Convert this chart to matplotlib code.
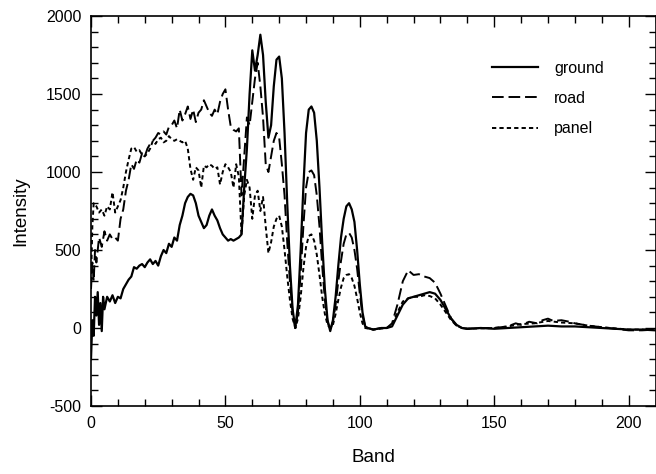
#!/usr/bin/env python3
"""
Spectral intensity per band for three surface types (ground, road, panel).
"""
import matplotlib
matplotlib.use("Agg")
import matplotlib.pyplot as plt
from matplotlib.ticker import MultipleLocator

plt.rcParams['font.family'] = ['Liberation Sans', 'DejaVu Sans']
plt.rcParams['axes.unicode_minus'] = False

# ground (solid)
ground_band = [0, 0.5, 1, 1.5, 2, 2.5, 3, 3.5, 4, 4.5, 5, 6, 7, 8, 9, 10, 11, 12, 13, 14,
               15, 16, 17, 18, 19, 20, 21, 22, 23, 24, 25, 26, 27, 28, 29, 30, 31, 32, 33,
               34, 35, 36, 37, 38, 39, 40, 41, 42, 43, 44, 45, 46, 47, 48, 49, 50, 51, 52,
               53, 54, 55, 56, 57, 58, 59, 60, 61, 62, 63, 64, 65, 66, 67, 68, 69, 70, 71,
               72, 73, 74, 75, 76, 77, 78, 79, 80, 81, 82, 83, 84, 85, 86, 87, 88, 89, 90,
               91, 92, 93, 94, 95, 96, 97, 98, 99, 100, 101, 102, 103, 105, 108, 110, 112,
               114, 116, 118, 120, 122, 124, 126, 128, 130, 132, 134, 136, 138, 140, 145,
               150, 155, 160, 165, 170, 175, 180, 185, 190, 195, 200, 205, 210]
ground_val = [-200, 50, -50, 200, 80, 230, 20, 160, -20, 200, 120, 200, 170, 210, 160, 200,
              190, 250, 280, 310, 330, 390, 380, 400, 410, 390, 420, 440, 410, 430, 400, 460,
              500, 480, 540, 520, 580, 560, 660, 720, 800, 840, 860, 850, 800, 720, 680, 640,
              660, 720, 760, 720, 690, 640, 600, 580, 560, 570, 560, 570, 580, 600, 900, 1150,
              1500, 1780, 1650, 1750, 1880, 1750, 1450, 1220, 1300, 1550, 1720, 1740, 1600,
              1250, 800, 400, 120, 0, 150, 500, 900, 1250, 1400, 1420, 1380, 1200, 900, 550,
              250, 50, -20, 50, 200, 400, 580, 700, 780, 800, 760, 680, 500, 280, 100, 10, 0,
              -10, 0, 0, 10, 80, 150, 190, 200, 210, 220, 230, 220, 180, 120, 60, 20, 0, -5,
              0, -5, 0, 5, 10, 15, 10, 10, 5, 0, -5, -10, -10, -15]

# road (long dashes)
road_band = [0, 0.5, 1, 1.5, 2, 3, 4, 5, 6, 7, 8, 9, 10, 11, 12, 13, 14, 15, 16, 17, 18, 19,
             20, 21, 22, 23, 24, 25, 26, 27, 28, 29, 30, 31, 32, 33, 34, 35, 36, 37, 38, 39,
             40, 41, 42, 43, 44, 45, 46, 47, 48, 49, 50, 51, 52, 53, 54, 55, 56, 57, 58, 59,
             60, 61, 62, 63, 64, 65, 66, 67, 68, 69, 70, 71, 72, 73, 74, 75, 76, 77, 78, 79,
             80, 81, 82, 83, 84, 85, 86, 87, 88, 89, 90, 91, 92, 93, 94, 95, 96, 97, 98, 99,
             100, 101, 102, 103, 105, 108, 110, 112, 114, 116, 118, 120, 122, 124, 126, 128,
             130, 132, 134, 136, 138, 140, 145, 150, 155, 158, 160, 163, 166, 168, 170, 172,
             175, 178, 180, 185, 190, 195, 200, 205, 210]
road_val = [250, 420, 300, 500, 420, 580, 520, 620, 560, 600, 570, 580, 560, 700, 760, 880,
            950, 1050, 1020, 1080, 1060, 1120, 1100, 1150, 1180, 1200, 1220, 1250, 1240, 1260,
            1240, 1290, 1300, 1330, 1280, 1400, 1330, 1370, 1420, 1340, 1400, 1320, 1380, 1400,
            1460, 1420, 1380, 1360, 1400, 1370, 1450, 1500, 1530, 1400, 1290, 1270, 1260, 1280,
            850, 1100, 1350, 1300, 1450, 1600, 1700, 1550, 1350, 1050, 1000, 1100, 1200, 1250,
            1220, 1050, 850, 550, 300, 100, 0, 100, 350, 650, 900, 1000, 1010, 980, 850, 650,
            400, 180, 40, -10, 40, 150, 300, 430, 540, 600, 610, 580, 500, 380, 220, 80, 10, 0,
            -10, 0, 0, 30, 150, 300, 370, 340, 345, 330, 320, 290, 220, 140, 60, 15, 0, -5, 0,
            0, 10, 30, 20, 40, 30, 50, 60, 45, 50, 40, 30, 15, 5, -5, -15, -15, -10]

# panel (short dashes)
panel_band = [0, 0.5, 1, 2, 3, 4, 5, 6, 7, 8, 9, 10, 11, 12, 13, 14, 15, 16, 17, 18, 19, 20,
              21, 22, 23, 24, 25, 26, 27, 28, 29, 30, 31, 32, 33, 34, 35, 36, 37, 38, 39, 40,
              41, 42, 43, 44, 45, 46, 47, 48, 49, 50, 51, 52, 53, 54, 55, 56, 57, 58, 59, 60,
              61, 62, 63, 64, 65, 66, 67, 68, 69, 70, 71, 72, 73, 74, 75, 76, 77, 78, 79, 80,
              81, 82, 83, 84, 85, 86, 87, 88, 89, 90, 91, 92, 93, 94, 95, 96, 97, 98, 99, 100,
              101, 102, 105, 110, 112, 114, 116, 118, 120, 122, 124, 126, 128, 130, 132, 134,
              136, 138, 140, 150, 155, 160, 165, 170, 175, 180, 185, 190, 200, 210]
panel_val = [300, 650, 800, 780, 740, 760, 720, 780, 760, 870, 740, 780, 820, 900, 1000, 1080,
             1150, 1160, 1130, 1140, 1110, 1100, 1120, 1150, 1200, 1180, 1210, 1220, 1190, 1200,
             1230, 1210, 1200, 1210, 1200, 1190, 1200, 1150, 1020, 950, 1030, 1010, 900, 1040,
             1030, 1050, 1040, 1020, 1030, 920, 1000, 1050, 1030, 1000, 900, 1050, 970, 600,
             850, 950, 900, 700, 850, 880, 750, 840, 650, 480, 550, 650, 700, 720, 650, 500,
             330, 180, 60, 0, 60, 200, 380, 520, 590, 600, 560, 470, 340, 200, 90, 20, 0, 20,
             90, 180, 260, 320, 340, 345, 320, 270, 190, 100, 30, 0, -10, 0, 20, 100, 170, 190,
             200, 200, 210, 205, 190, 150, 100, 50, 15, 0, -5, 0, 10, 25, 30, 45, 35, 30, 15, 5,
             -10, -10]

fig = plt.figure(figsize=(6.56, 4.74), dpi=100)
ax = fig.add_axes([91 / 656, 1 - 406 / 474, 564.5 / 656, 390 / 474])

ax.plot(ground_band, ground_val, color='black', lw=1.6, ls='-', label='ground')
ax.plot(road_band, road_val, color='black', lw=1.4, ls=(0, (6, 2.5)), label='road')
ax.plot(panel_band, panel_val, color='black', lw=1.4, ls=(0, (2.2, 1.6)), label='panel')

ax.set_xlim(0, 210)
ax.set_ylim(-500, 2000)
ax.xaxis.set_major_locator(MultipleLocator(50))
ax.xaxis.set_minor_locator(MultipleLocator(10))
ax.yaxis.set_major_locator(MultipleLocator(500))
ax.yaxis.set_minor_locator(MultipleLocator(100))
ax.tick_params(which='both', direction='in', top=True, right=True, labelsize=11.5, width=1)
ax.tick_params(which='major', length=8, pad=7)
ax.tick_params(which='minor', length=5)
for s in ax.spines.values():
    s.set_linewidth(1.2)

ax.set_xlabel('Band', fontsize=13.5, labelpad=13)
ax.set_ylabel('Intensity', fontsize=13.5, labelpad=12)

ax.legend(loc='upper left', bbox_to_anchor=(0.71, 0.885), frameon=False, fontsize=11.5,
          handlelength=2.9, handletextpad=1.0, labelspacing=0.95, borderpad=0,
          borderaxespad=0)

plt.savefig('out.png', dpi=100)
plt.close()
